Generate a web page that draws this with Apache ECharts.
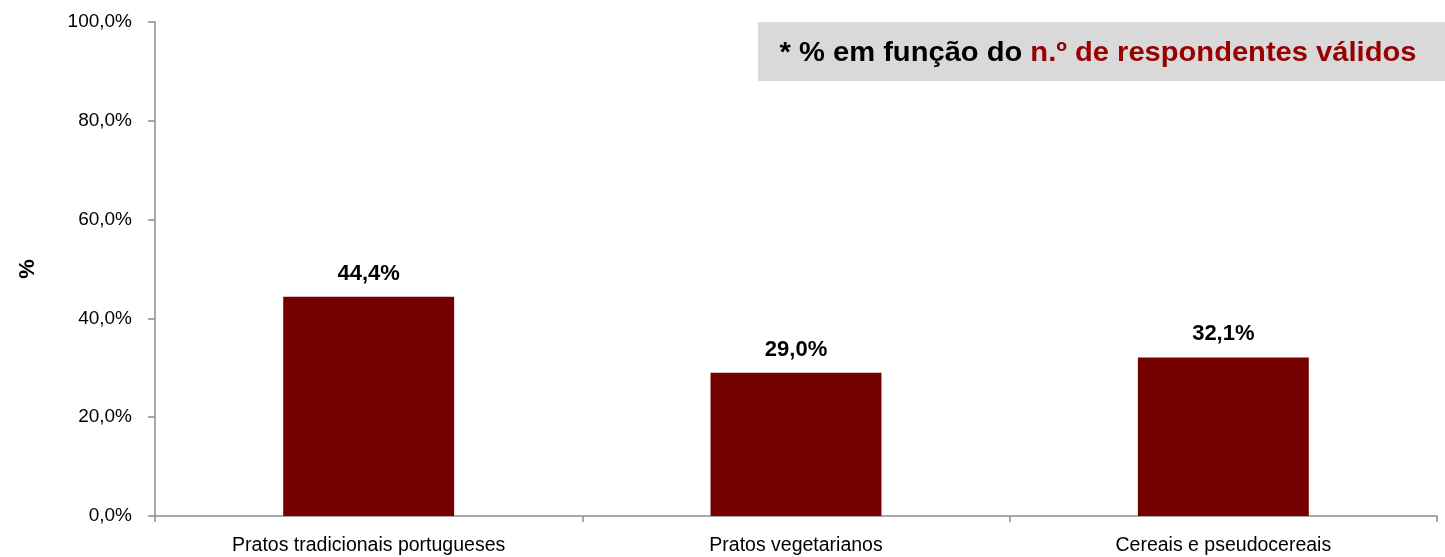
<!DOCTYPE html>
<html><head><meta charset="utf-8">
<script src="https://cdn.jsdelivr.net/npm/echarts@6/dist/echarts.min.js"></script>
<style>html,body{margin:0;padding:0;background:#fff}#c{width:1445px;height:557px}</style>
</head><body><div id="c"></div>
<script>
const categories = ["Pratos tradicionais portugueses", "Pratos vegetarianos", "Cereais e pseudocereais"];
const values = [44.4, 29.0, 32.1];
const yTicks = [0, 20, 40, 60, 80, 100];
const fmt = v => v.toFixed(1).replace('.', ',');
const FONT = '"Liberation Sans", Arial, sans-serif';
const chart = echarts.init(document.getElementById('c'), null, {renderer: 'canvas'});
chart.setOption({
  animation: false,
  grid: {left: 155, right: 8, top: 22, bottom: 41, containLabel: false},
  graphic: [
    {type: 'rect', z: 10, shape: {x: 758, y: 22, width: 687, height: 59}, style: {fill: '#d9d9d9'}},
    {type: 'text', z: 11, x: 1098, y: 53, scaleX: 1.04, style: {
      x: 0, y: 0,
      text: '{a|* % em função do }{b|n.º de respondentes válidos}',
      align: 'center', verticalAlign: 'middle',
      rich: {
        a: {fill: '#000', fontSize: 28, fontWeight: 'bold', fontFamily: FONT},
        b: {fill: '#990000', fontSize: 28, fontWeight: 'bold', fontFamily: FONT}
      }
    }}
  ],
  xAxis: {
    type: 'category', data: categories,
    axisLine: {lineStyle: {color: '#8c8c8c', width: 1.5}},
    axisTick: {show: true, length: 6, lineStyle: {color: '#8c8c8c', width: 1.5}},
    axisLabel: {color: '#000', fontSize: 19.5, fontFamily: FONT, margin: 20, interval: 0}
  },
  yAxis: {
    type: 'value', min: 0, max: 100, interval: 20,
    name: '%', nameLocation: 'middle', nameGap: 116, nameRotate: 90,
    nameTextStyle: {color: '#000', fontSize: 22, fontWeight: 'bold', fontFamily: FONT},
    axisLine: {show: true, lineStyle: {color: '#8c8c8c', width: 1.5}},
    axisTick: {show: true, length: 7, lineStyle: {color: '#8c8c8c', width: 1.5}},
    splitLine: {show: false},
    axisLabel: {color: '#000', fontSize: 19, fontFamily: FONT, margin: 23,
      formatter: v => yTicks.includes(v) ? fmt(v) + '%' : ''}
  },
  series: [{
    type: 'bar', data: values, barWidth: '40%',
    itemStyle: {color: '#750000'},
    label: {show: true, position: 'top', distance: 12, color: '#000', fontSize: 22, fontWeight: 'bold',
      fontFamily: FONT, formatter: p => fmt(p.value) + '%'}
  }]
});
</script></body></html>
